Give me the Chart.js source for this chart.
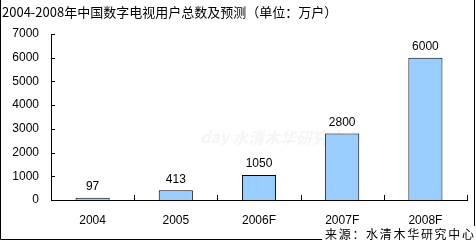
<!DOCTYPE html>
<html>
<head>
<meta charset="utf-8">
<script src="https://cdn.jsdelivr.net/npm/chart.js@4.4.1/dist/chart.umd.min.js"></script>
<style>
  body { margin: 0; background: #fff; }
  #wrap { width: 476px; height: 244px; }
</style>
</head>
<body>
<div id="wrap"><canvas id="c" width="476" height="244"></canvas></div>
<script>
// chart data
const years = ['2004', '2005', '2006F', '2007F', '2008F'];
const users = [97, 413, 1050, 2800, 6000];
const yTicks = [0, 1000, 2000, 3000, 4000, 5000, 6000, 7000];

const titleText = '2004-2008年中国数字电视用户总数及预测（单位：万户）';
const sourceText = '来源：水清木华研究中心';

const tickFont = '12px "Liberation Sans", Arial, sans-serif';

// frame, title, inward ticks, value labels, source note
const decorations = {
    id: 'decorations',
    beforeDraw(chart) {
        const ctx = chart.ctx;
        ctx.save();
        // faint watermark
        ctx.fillStyle = 'rgba(215,215,215,0.25)';
        ctx.font = 'italic bold 16px "Noto Sans CJK SC", sans-serif';
        ctx.textBaseline = 'middle';
        ctx.fillText('day', 200, 137);
        ctx.fillText('水清木华研究中心', 232, 138);
        ctx.restore();
    },
    afterDraw(chart) {
        const ctx = chart.ctx;
        const x = chart.scales.x;
        const y = chart.scales.y;
        const area = chart.chartArea;
        ctx.save();

        // outer frame
        ctx.strokeStyle = '#000';
        ctx.lineWidth = 1;
        ctx.beginPath();
        ctx.moveTo(0.5, 0);
        ctx.lineTo(0.5, 239.5);
        ctx.lineTo(474.5, 239.5);
        ctx.lineTo(474.5, 0);
        ctx.stroke();

        // title
        ctx.fillStyle = '#000';
        ctx.font = '13px "Noto Sans CJK SC", sans-serif';
        ctx.textBaseline = 'middle';
        ctx.textAlign = 'left';
        ctx.fillText(titleText, 2, 12);

        // inward ticks on y axis
        ctx.beginPath();
        yTicks.forEach(v => {
            const py = Math.round(y.getPixelForValue(v)) + 0.5;
            ctx.moveTo(area.left, py);
            ctx.lineTo(area.left + 4, py);
        });
        // inward ticks at category boundaries on x axis
        const half = (x.getPixelForValue(1) - x.getPixelForValue(0)) / 2;
        for (let i = 0; i <= years.length; i++) {
            const px = Math.round(x.getPixelForValue(i) - half) + 0.5;
            ctx.moveTo(px, area.bottom);
            ctx.lineTo(px, area.bottom - 5);
        }
        ctx.stroke();

        // value labels above bars
        ctx.font = tickFont;
        ctx.textAlign = 'center';
        ctx.textBaseline = 'bottom';
        chart.getDatasetMeta(0).data.forEach((bar, i) => {
            ctx.fillText(String(users[i]), bar.x, bar.y - 5);
        });

        // source box covering the frame corner
        ctx.fillStyle = '#fff';
        ctx.fillRect(322, 226, 154, 18);
        ctx.fillStyle = '#000';
        ctx.font = '12px "Noto Sans CJK SC", sans-serif';
        ctx.textAlign = 'left';
        ctx.textBaseline = 'middle';
        let sx = 325;
        for (const ch of sourceText) {
            ctx.fillText(ch, sx, 234);
            sx += 13.7;
        }
        ctx.restore();
    }
};

new Chart(document.getElementById('c'), {
    type: 'bar',
    data: {
        labels: years,
        datasets: [{
            data: users,
            backgroundColor: '#99CCFF',
            borderColor: '#000',
            borderWidth: 1,
            barPercentage: 0.41,
            categoryPercentage: 1
        }]
    },
    options: {
        responsive: false,
        animation: false,
        layout: { padding: { left: 0, right: 9, top: 34, bottom: 0 } },
        plugins: {
            legend: { display: false },
            tooltip: { enabled: false }
        },
        scales: {
            x: {
                grid: { display: false, drawTicks: false },
                border: { color: '#000', width: 1 },
                ticks: { color: '#000', font: { family: '"Liberation Sans", Arial, sans-serif', size: 12 }, padding: 13, maxRotation: 0 },
                afterFit(s) { s.height = 44; }
            },
            y: {
                min: 0,
                max: 7000,
                grid: { display: false, drawTicks: false },
                border: { color: '#000', width: 1 },
                ticks: {
                    stepSize: 1000,
                    color: '#000',
                    font: { family: '"Liberation Sans", Arial, sans-serif', size: 12 },
                    padding: 12,
                    callback: v => String(v)
                },
                afterFit(s) { s.width = 51; }
            }
        }
    },
    plugins: [decorations]
});
</script>
</body>
</html>
